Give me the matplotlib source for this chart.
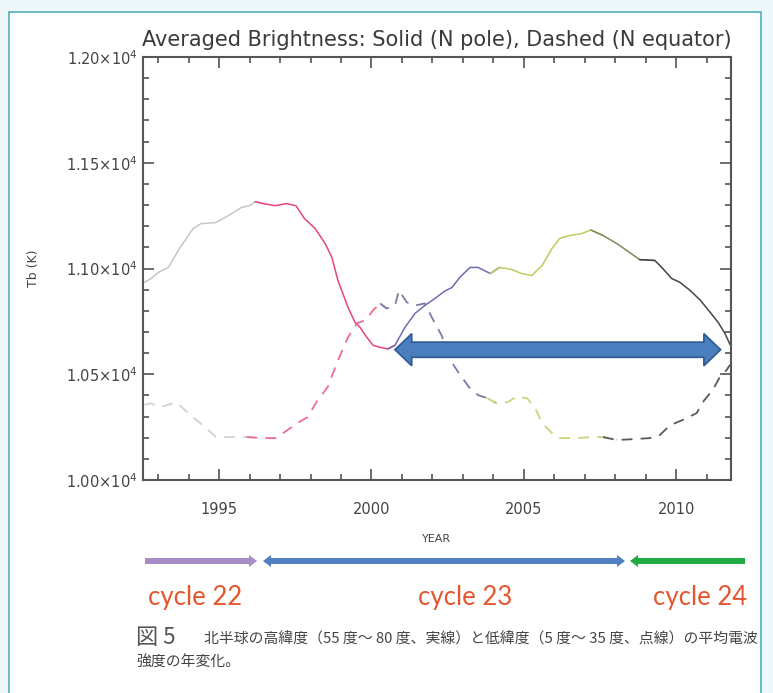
import numpy as np
import matplotlib
matplotlib.use("Agg")
import matplotlib.pyplot as plt
from matplotlib.patches import Polygon, Rectangle

# ---------------- data ----------------
solid_year = [1992.55, 1992.74, 1993.0, 1993.33, 1993.72, 1994.15, 1994.4, 1994.87, 1995.13,
              1995.46, 1995.72, 1996.0, 1996.18, 1996.44, 1996.84, 1997.2, 1997.52, 1997.6,
              1997.8, 1998.15, 1998.48, 1998.7, 1998.9, 1999.23, 1999.46, 1999.62, 1999.8,
              2000.05, 2000.28, 2000.54, 2000.77, 2001.1, 2001.43, 2001.75, 2002.08, 2002.4,
              2002.64, 2002.9, 2003.23, 2003.5, 2003.9, 2004.2, 2004.6, 2004.93, 2005.26,
              2005.6, 2005.92, 2006.18, 2006.5, 2006.9, 2007.2, 2007.6, 2008.05, 2008.48,
              2008.8, 2009.3, 2009.56, 2009.85, 2010.13, 2010.46, 2010.8, 2011.12, 2011.38,
              2011.6, 2011.77]
solid_tb = [10935, 10950, 10981, 11005, 11100, 11189, 11212, 11217, 11236,
            11264, 11288, 11297, 11316, 11307, 11297, 11307, 11297, 11280,
            11236, 11189, 11118, 11052, 10943, 10816, 10745, 10722, 10684,
            10637, 10627, 10620, 10637, 10722, 10788, 10825, 10858, 10893,
            10910, 10958, 11005, 11005, 10976, 11005, 10995, 10976, 10967,
            11014, 11094, 11142, 11156, 11165, 11182, 11156, 11118, 11075,
            11042, 11038, 11000, 10953, 10934, 10896, 10849, 10792, 10745,
            10693, 10640]

dashed_year = [1992.55, 1992.74, 1993.07, 1993.6, 1994.05, 1994.54, 1994.9, 1995.4, 1995.9,
               1996.44, 1996.87, 1997.33, 1997.52, 1997.9, 1998.23, 1998.56, 1998.9, 1999.23,
               1999.52, 1999.8, 2000.05, 2000.28, 2000.5, 2000.77, 2000.9, 2001.16, 2001.43,
               2001.75, 2001.98, 2002.3, 2002.64, 2002.87, 2003.2, 2003.5, 2003.8, 2004.1,
               2004.47, 2004.74, 2005.1, 2005.36, 2005.6, 2005.92, 2006.18, 2006.77, 2007.2,
               2007.6, 2008.05, 2008.57, 2009.13, 2009.46, 2009.8, 2010.2, 2010.67, 2010.92,
               2011.2, 2011.43, 2011.65, 2011.77]
dashed_tb = [10355, 10363, 10344, 10368, 10307, 10250, 10203, 10203, 10203,
             10198, 10198, 10245, 10265, 10297, 10377, 10439, 10566, 10675,
             10741, 10755, 10802, 10835, 10811, 10825, 10896, 10840, 10825,
             10835, 10769, 10684, 10555, 10505, 10439, 10401, 10387, 10363,
             10368, 10392, 10387, 10344, 10269, 10222, 10198, 10198, 10203,
             10203, 10189, 10193, 10198, 10212, 10259, 10283, 10316, 10377,
             10425, 10486, 10519, 10545]

solid_segments = [(1992.5, 1996.2, "#c6c6c6"), (1996.2, 2000.6, "#e8457a"),
                  (2000.6, 2004.1, "#6d6db0"), (2004.1, 2007.5, "#bccd60"),
                  (2007.5, 2009.0, "#7f875c"), (2009.0, 2011.8, "#454545")]
dashed_segments = [(1992.5, 1996.1, "#d2d2d2"), (1996.1, 2000.35, "#ec6d90"),
                   (2000.35, 2004.0, "#7b7ba6"), (2004.0, 2007.8, "#cad47c"),
                   (2007.8, 2011.8, "#5a5a5a")]

x_ticks = [1995, 2000, 2005, 2010]
y_ticks = [10000, 10500, 11000, 11500, 12000]
y_tick_labels = [r"1.00$\times$10$^{4}$", r"1.05$\times$10$^{4}$", r"1.10$\times$10$^{4}$",
                 r"1.15$\times$10$^{4}$", r"1.20$\times$10$^{4}$"]

title = "Averaged Brightness: Solid (N pole), Dashed (N equator)"
cycles = ["cycle 22", "cycle 23", "cycle 24"]
caption_head = "図 5"
caption_line1 = "北半球の高緯度（55 度～ 80 度、実線）と低緯度（5 度～ 35 度、点線）の平均電波"
caption_line2 = "強度の年変化。"

# --------------- helpers ---------------
def block_arrow(x0, x1, yc, shaft, head, hlen, left=True, right=True, **kw):
    pts = []
    if left:
        pts += [(x0, yc), (x0 + hlen, yc + head), (x0 + hlen, yc + shaft)]
    else:
        pts += [(x0, yc + shaft)]
    if right:
        pts += [(x1 - hlen, yc + shaft), (x1 - hlen, yc + head), (x1, yc),
                (x1 - hlen, yc - head), (x1 - hlen, yc - shaft)]
    else:
        pts += [(x1, yc + shaft), (x1, yc - shaft)]
    if left:
        pts += [(x0 + hlen, yc - shaft), (x0 + hlen, yc - head)]
    else:
        pts += [(x0, yc - shaft)]
    return Polygon(pts, closed=True, **kw)


def plot_segments(ax, xs, ys, segments, **kw):
    xs = np.asarray(xs)
    ys = np.asarray(ys)
    for a, b, c in segments:
        i0 = max(int(np.searchsorted(xs, a, side="right")) - 1, 0)
        i1 = min(int(np.searchsorted(xs, b, side="left")), len(xs) - 1)
        ax.plot(xs[i0:i1 + 1], ys[i0:i1 + 1], color=c, **kw)

# --------------- figure ---------------
W, H = 773, 693
fig = plt.figure(figsize=(W / 100, H / 100), dpi=100)
fig.patch.set_facecolor("#eef8fa")

bg = fig.add_axes([0, 0, 1, 1], zorder=0)
bg.set_xlim(0, W)
bg.set_ylim(H, 0)
bg.axis("off")
bg.add_patch(Rectangle((9, 12), 752, 700, facecolor="white", edgecolor="#5cb6be", lw=1.3))

ax = fig.add_axes([143 / W, 1 - 480 / H, (731 - 143) / W, (480 - 57) / H], zorder=2)
ax.set_facecolor("none")
plot_segments(ax, solid_year, solid_tb, solid_segments, lw=1.1, solid_capstyle="round")
plot_segments(ax, dashed_year, dashed_tb, dashed_segments, lw=1.3, dashes=(6, 4.5))

ax.set_xlim(1992.5, 2011.8)
ax.set_ylim(10000, 12000)
ax.set_xticks(x_ticks)
ax.set_xticks(np.arange(1993, 2012, 1), minor=True)
ax.set_yticks(y_ticks)
ax.set_yticklabels(y_tick_labels)
ax.set_yticks(np.arange(10000, 12001, 100), minor=True)
ax.tick_params(which="both", direction="in", top=True, right=True, color="#444444", width=1.1)
ax.tick_params(which="major", length=8)
ax.tick_params(which="minor", length=4.5)
ax.tick_params(axis="x", which="major", pad=16, labelsize=10.5, labelcolor="#444444")
ax.tick_params(axis="y", which="major", pad=4, labelsize=10.5, labelcolor="#444444")
for s in ax.spines.values():
    s.set_color("#555555")
    s.set_linewidth(1.5)

# big blue arrow inside the plot
ax.add_patch(block_arrow(2000.77, 2011.46, 10616, 36, 76, 0.55,
                         facecolor="#4a7ebf", edgecolor="#2d5a8f", lw=1.2, zorder=5))

# texts
bg.text(437, 40, title, ha="center", va="center", fontsize=15, color="#3a3a3a")
bg.text(437, 539, "YEAR", ha="center", va="center", fontsize=8, color="#444444")
bg.text(33, 268, "Tb (K)", ha="center", va="center", rotation=90, fontsize=9, color="#444444")

# cycle arrows
bg.add_patch(block_arrow(145, 257, 561, 3.0, 6, 8, left=False, right=True,
                         facecolor="#a88cc8", edgecolor="none"))
bg.add_patch(block_arrow(263, 625, 561, 3.0, 6, 8, left=True, right=True,
                         facecolor="#4f7fc0", edgecolor="none"))
bg.add_patch(block_arrow(630, 745, 561, 3.0, 6, 8, left=True, right=False,
                         facecolor="#22aa44", edgecolor="none"))
for cx, lab in zip([195, 465, 700], cycles):
    bg.text(cx, 598, lab, ha="center", va="center", fontsize=18.5, color="#e4572e",
            family=["Lato", "DejaVu Sans"])

cjk = ["Noto Sans CJK JP", "DejaVu Sans"]
bg.text(136, 638, caption_head, ha="left", va="center", fontsize=16, color="#555555", family=cjk)
bg.text(204, 639, caption_line1, ha="left", va="center", fontsize=10.7, color="#444444", family=cjk)
bg.text(136, 663, caption_line2, ha="left", va="center", fontsize=10.7, color="#444444", family=cjk)

fig.savefig("out.png", dpi=100, facecolor=fig.get_facecolor())
